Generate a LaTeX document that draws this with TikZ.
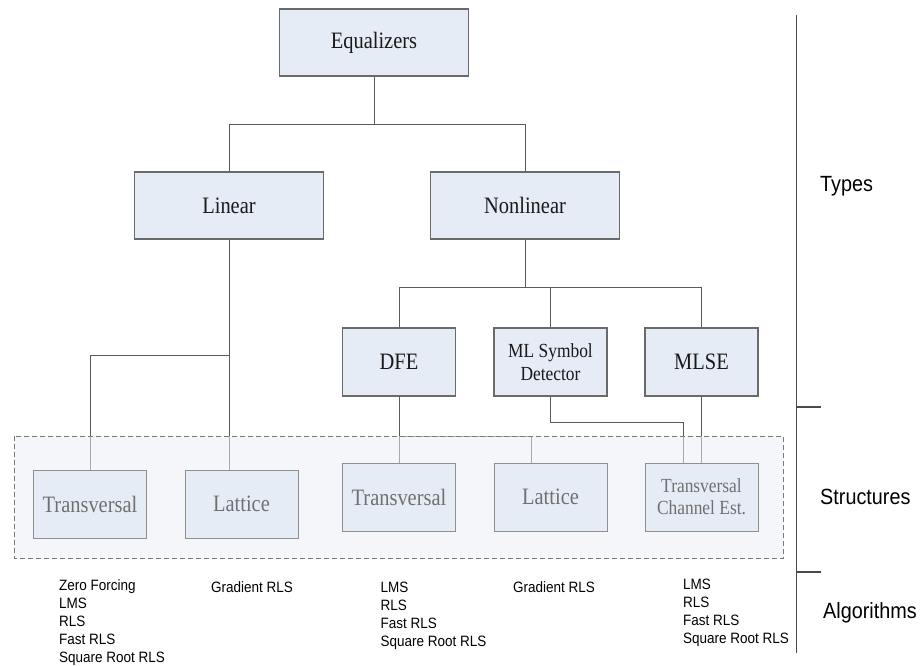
\documentclass[tikz,border=0pt]{standalone}
\usepackage{fontspec}
\setmainfont{Liberation Serif}
\setsansfont{Liberation Sans}
% narrow-set faces for the box captions and the side labels
\newfontfamily\boxface[FakeStretch=0.87]{Liberation Serif}
\newfontfamily\labelface[FakeStretch=0.9]{Liberation Sans}
\pgfdeclarelayer{back}
\pgfdeclarelayer{wires}
\pgfdeclarelayer{veil}
\pgfsetlayers{back,wires,veil,main}
\definecolor{boxfill}{HTML}{E6ECF6}
\definecolor{boxline}{HTML}{6A6A6A}
\definecolor{wirecol}{HTML}{5A5A5A}
\definecolor{areafill}{HTML}{F4F6FA}
\definecolor{arealine}{HTML}{787878}
\definecolor{structtext}{HTML}{707070}
\definecolor{scalecol}{HTML}{4A4A4A}

\begin{document}
\begin{tikzpicture}[x=1pt,y=-1pt,
  typebox/.style={draw=boxline, fill=boxfill, line width=1.1pt,
    minimum width=189pt, minimum height=67pt, inner sep=0pt,
    font=\boxface\fontsize{23.5}{27}\selectfont, text=black!90},
  subbox/.style={typebox, minimum width=113pt, minimum height=68pt, align=center},
  structbox/.style={draw=boxline!75, fill=boxfill, line width=1pt,
    minimum width=113pt, minimum height=68pt, inner sep=0pt, align=center,
    text=structtext, font=\boxface\fontsize{23.5}{27}\selectfont},
  wire/.style={draw=wirecol, line width=1pt},
  algo/.style={font=\labelface\fontsize{15}{18}\selectfont, align=left,
    anchor=north west, inner sep=0pt},
  level/.style={font=\labelface\fontsize{22}{26}\selectfont, anchor=base west,
    inner sep=0pt},
  scaleline/.style={draw=scalecol, line width=1.2pt}]

\useasboundingbox (0,0) rectangle (924,666);

% tree of equalizer types
\node[typebox] (eq) at (374,42.5) {Equalizers};
\node[typebox] (lin) at (229,205.5) {Linear};
\node[typebox] (nonlin) at (525,205.5) {Nonlinear};
\node[subbox] (dfe) at (399,362) {DFE};
\node[subbox, font=\boxface\fontsize{20}{23}\selectfont] (mlsd) at (550.5,362) {ML Symbol\\Detector};
\node[subbox] (mlse) at (701.5,362) {MLSE};

% structures
\coordinate (areaNW) at (14,436);
\coordinate (areaSE) at (783.5,558);
\node[structbox] (ltr) at (90,504) {Transversal};
\node[structbox] (llat) at (241.5,504) {Lattice};
\node[structbox] (ntr) at (399,497) {Transversal};
\node[structbox] (nlat) at (550.5,497) {Lattice};
\node[structbox, font=\boxface\fontsize{20}{22}\selectfont] (tce) at (701.5,497) {Transversal\\Channel Est.};

\begin{pgfonlayer}{back}
  \fill[areafill] (areaNW) rectangle (areaSE);
\end{pgfonlayer}
\begin{pgfonlayer}{veil}
  \fill[areafill, fill opacity=0.5] (areaNW) rectangle (areaSE);
\end{pgfonlayer}
\draw[arealine, line width=1pt, dash pattern=on 5pt off 3pt] (areaNW) rectangle (areaSE);

% connectors
\begin{pgfonlayer}{wires}
  \draw[wire] (eq.south) -- ++(0,48) coordinate (eqj);
  \draw[wire] (lin.north) |- (eqj) -| (nonlin.north);
  \draw[wire] (nonlin.south) -- ++(0,48) coordinate (nlj);
  \draw[wire] (dfe.north) |- (nlj) -| (mlse.north);
  \draw[wire] (mlsd.north) -- (mlsd.north |- nlj);
  \draw[wire] (lin.south) -- (lin.south |- llat.north);
  \path (lin.south) ++(0,116) coordinate (linj);
  \draw[wire] (ltr.north) |- (linj);
  \draw[wire] (dfe.south) -- (ntr.north);
  \path (dfe.south) ++(0,40) coordinate (dfej);
  \draw[wire] (dfej) -| ([xshift=-19.5pt]nlat.north);
  \draw[wire] (mlsd.south) -- ++(0,26) -| ([xshift=-18.5pt]tce.north);
  \draw[wire] (mlse.south) -- (tce.north);
\end{pgfonlayer}

% algorithms
\node[algo] (a1) at (59,579.5) {Zero Forcing\\LMS\\RLS\\Fast RLS\\Square Root RLS};
\node[algo] (a2) at (211,581) {Gradient RLS};
\node[algo] (a3) at (380.5,582) {LMS\\RLS\\Fast RLS\\Square Root RLS};
\node[algo] (a4) at (513,581) {Gradient RLS};
\node[algo] (a5) at (683,579) {LMS\\RLS\\Fast RLS\\Square Root RLS};

% level scale
\coordinate (stop) at (796.5,15);
\coordinate (sbot) at (796.5,653);
\coordinate (tick1) at (796.5,407);
\coordinate (tick2) at (796.5,572);
\draw[scaleline] (stop) -- (sbot);
\draw[scaleline] (tick1) -- ++(24.5,0);
\draw[scaleline] (tick2) -- ++(24.5,0);
\node[level] (types) at (820,191) {Types};
\node[level] (structs) at (820,504) {Structures};
\node[level] (algs) at (823,618) {Algorithms};
\end{tikzpicture}
\end{document}
